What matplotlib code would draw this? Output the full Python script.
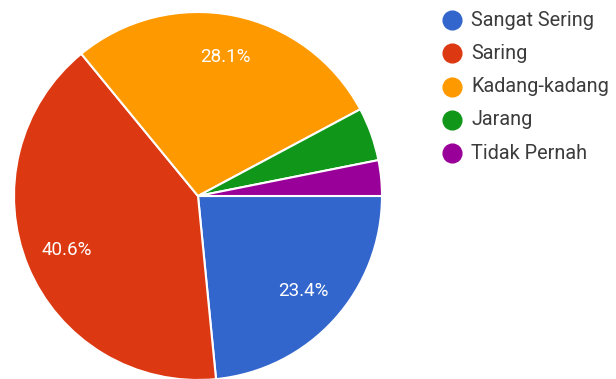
import matplotlib
matplotlib.use("Agg")
import matplotlib.pyplot as plt
from matplotlib.lines import Line2D

categories = ["Sangat Sering", "Saring", "Kadang-kadang", "Jarang", "Tidak Pernah"]
counts = [15, 26, 18, 3, 2]
colors = ["#3366cc", "#dc3912", "#ff9900", "#109618", "#990099"]

plt.rcParams["font.family"] = ["Roboto", "DejaVu Sans"]

W, H = 616, 379
fig = plt.figure(figsize=(W / 100, H / 100), dpi=100)
fig.patch.set_facecolor("white")

cx, cy, r = 198, 196, 184
ax = fig.add_axes([(cx - r) / W, (H - cy - r) / H, 2 * r / W, 2 * r / H])


def pct_label(p):
    return f"{p:.1f}%" if p >= 5 else ""


wedges, texts, autotexts = ax.pie(
    counts,
    colors=colors,
    startangle=0,
    counterclock=False,
    radius=1,
    autopct=pct_label,
    pctdistance=0.77,
    wedgeprops=dict(edgecolor="white", linewidth=1.5),
    textprops=dict(color="white", fontsize=13.5),
)
ax.set_xlim(-1, 1)
ax.set_ylim(-1, 1)
ax.set_aspect("equal")
ax.axis("off")

# legend drawn in figure pixel space: one row per category
row0, step = 20, 33.3
for i, (name, c) in enumerate(zip(categories, colors)):
    y = 1 - (row0 + step * i) / H
    fig.add_artist(Line2D([452 / W], [y], marker="o", linestyle="",
                          markersize=13.5, markerfacecolor=c,
                          markeredgecolor=c, transform=fig.transFigure))
    fig.text(471 / W, y, name, fontsize=14.3, color="#3c3c3c",
             ha="left", va="center")

fig.savefig("out.png", dpi=100, facecolor="white")
